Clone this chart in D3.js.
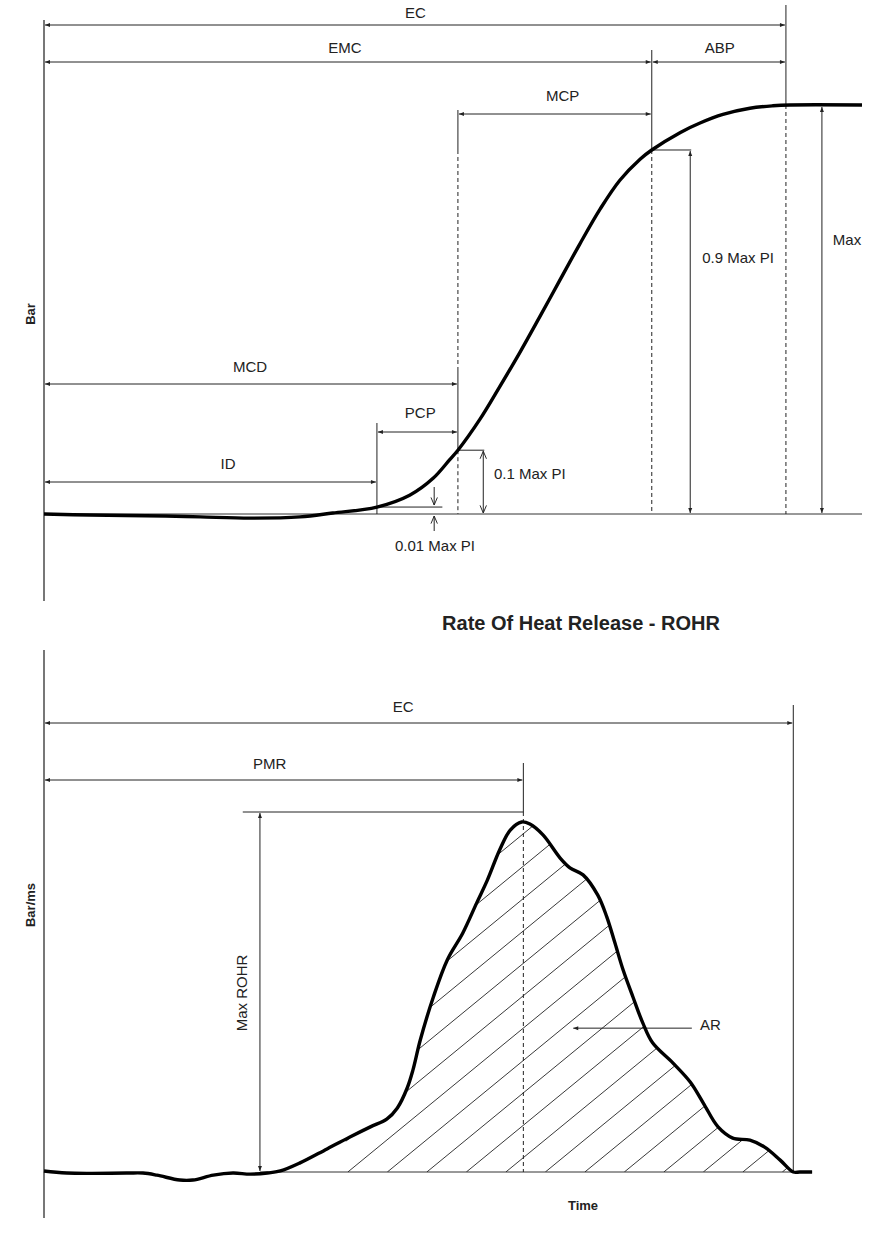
<!DOCTYPE html>
<html><head><meta charset="utf-8">
<script src="https://cdn.jsdelivr.net/npm/d3@7"></script>
<style>
body{margin:0;background:#fff}
text{font-family:"Liberation Sans",Arial,Helvetica,sans-serif;fill:#222}
</style>
</head><body>
<svg id="c" width="870" height="1237"></svg>
<script>
// ---------------- DATA ----------------
// time axis in % of window, values in % of maximum
const pressureCurve = [[0,0],[5.6,-0.25],[14.9,-0.5],[19.1,-0.7],[25.2,-1],[31.3,-0.7],[35.3,0.25],[40.7,1.7],[44.7,4.6],[47.6,8.8],[49.6,13.3],[50.6,15.6],[53.3,23.2],[55.7,31.1],[58.2,39.6],[60.6,48.2],[63.1,57.3],[65.5,66.0],[68.0,74.6],[70.4,81.6],[72.9,86.8],[74.3,89.0],[77.8,93.3],[80.2,95.6],[83.0,97.7],[86.3,99.2],[89.1,99.8],[91.2,100],[100,100]];

const rohrCurve = [[0,0.3],[2.8,-0.3],[10.1,-0.3],[12.1,-0.3],[13.8,-0.9],[16.6,-2.3],[18.2,-2.3],[20.7,-0.9],[23.1,-0.3],[25.2,-0.6],[27.3,-0.3],[28.9,0.3],[31.3,2.6],[34.6,6.6],[37.4,10.0],[39.9,12.9],[41.9,15.1],[43.2,18.3],[44.4,24.0],[45.1,29.1],[46.0,37.7],[47.6,50.0],[49.3,60.6],[51.2,68.3],[52.9,76.9],[54.2,83.4],[55.7,92.0],[57.0,97.7],[58.4,100],[59.4,99.4],[61.0,96.3],[63.1,89.7],[64.3,86.9],[65.9,84.9],[67.7,79.1],[68.8,72.9],[69.8,65.4],[70.8,57.7],[72.0,50.0],[73.2,42.6],[74.4,36.9],[76.9,31.1],[79.0,25.7],[80.6,19.7],[82.4,12.9],[84.2,9.7],[86.3,9.1],[88.1,7.1],[90.0,3.4],[91.6,0],[92.4,0],[93.9,0]];

const topSpanNames   = ["EC","EMC","ABP","MCP","MCD","PCP","ID"];
const topSpanFrom    = [0, 0, 74.3, 50.6, 0, 40.7, 0];
const topSpanTo      = [90.7, 74.3, 90.7, 74.3, 50.6, 50.6, 40.7];
const topSpanLabelAt = [45.4, 36.8, 82.6, 63.4, 25.2, 46.0, 22.5];

const levelNames   = ["0.01 Max PI","0.1 Max PI","0.9 Max PI","Max"];
const levelValues  = [1.7, 15.6, 89.0, 100];
const levelTimes   = [40.7, 50.6, 74.3, 90.7];
const levelArrowAt = [47.7, 53.7, 79.0, 95.1];

const rohrSpanNames   = ["EC","PMR"];
const rohrSpanFrom    = [0, 0];
const rohrSpanTo      = [91.6, 58.6];
const rohrSpanLabelAt = [43.9, 27.6];
const maxRohrArrowAt = 26.4, maxRohrLineFrom = 24.3, rohrPeakTime = 58.6;
const arArrowFrom = 79.2, arArrowTo = 64.7, arLevel = 41.1;
const hatchStart = 36.9;

const axisTitles = ["Bar","Bar/ms","Time"];
const chartTitle = "Rate Of Heat Release - ROHR";

// ---------------- SCALES ----------------
const W = 870, H = 1237;
const x = d3.scaleLinear().domain([0,100]).range([44,862]);
const yTop = d3.scaleLinear().domain([0,100]).range([514,105]);
const yBot = d3.scaleLinear().domain([0,100]).range([1172,822]);

const svg = d3.select("#c");
const defs = svg.append("defs");
const INK = "#222";
const FS = 15;

defs.append("marker").attr("id","ah").attr("viewBox","0 0 6 6").attr("refX",6).attr("refY",3)
  .attr("markerWidth",6).attr("markerHeight",5).attr("markerUnits","userSpaceOnUse")
  .attr("orient","auto-start-reverse")
  .append("path").attr("d","M0,0.6L6,3L0,5.4Z").attr("fill",INK);
defs.append("marker").attr("id","oh").attr("viewBox","0 0 10 10").attr("refX",9.5).attr("refY",5)
  .attr("markerWidth",8).attr("markerHeight",8).attr("markerUnits","userSpaceOnUse")
  .attr("orient","auto-start-reverse")
  .append("path").attr("d","M0,1L9.5,5L0,9").attr("fill","none").attr("stroke",INK).attr("stroke-width",1.2);

function seg(x1,y1,x2,y2,o={}){
  const l = svg.append("line").attr("x1",x1).attr("y1",y1).attr("x2",x2).attr("y2",y2)
    .attr("stroke",o.color||INK).attr("stroke-width",o.w||1);
  if(o.dash) l.attr("stroke-dasharray","4,3");
  if(o.start) l.attr("marker-start",`url(#${o.start})`);
  if(o.end) l.attr("marker-end",`url(#${o.end})`);
  return l;
}
function label(t,px,py,o={}){
  const e = svg.append("text").attr("x",px).attr("y",py).text(t)
    .attr("font-size",o.size||FS).attr("text-anchor",o.anchor||"middle");
  if(o.bold) e.attr("font-weight","bold");
  if(o.rot) e.attr("transform",`rotate(-90,${px},${py})`);
  return e;
}
const smooth = d3.curveCatmullRom.alpha(0.5);

// ================= TOP CHART =================
seg(44,20,44,601,{color:"#555",w:1.6});
seg(x(0),yTop(0),x(100),yTop(0),{color:"#333",w:1});

// vertical event lines
seg(x(levelTimes[0]),423,x(levelTimes[0]),yTop(0));
seg(x(50.6),110,x(50.6),150);
seg(x(50.6),150,x(50.6),367,{dash:true});
seg(x(50.6),367,x(50.6),yTop(levelValues[1]));
seg(x(50.6),yTop(levelValues[1]),x(50.6),yTop(0),{dash:true});
seg(x(74.3),50,x(74.3),yTop(levelValues[2]));
seg(x(74.3),yTop(levelValues[2]),x(74.3),yTop(0),{dash:true});
seg(x(90.7),5,x(90.7),yTop(100));
seg(x(90.7),yTop(100),x(90.7),yTop(0),{dash:true});

// spans
const topRowY = [25,62,62,114,384,432,482];
const topLabelOff = [-7,-9,-9,-13,-12,-14,-13];
topSpanNames.forEach((n,i)=>{
  seg(x(topSpanFrom[i])+1,topRowY[i],x(topSpanTo[i])-1,topRowY[i],{start:"ah",end:"ah"});
  label(n,x(topSpanLabelAt[i]),topRowY[i]+topLabelOff[i]);
});

// level markers
seg(x(levelTimes[0]),yTop(levelValues[0]),x(48.7),yTop(levelValues[0]));
seg(x(levelArrowAt[0]),487,x(levelArrowAt[0]),yTop(levelValues[0])-2,{end:"oh"});
seg(x(levelArrowAt[0]),531,x(levelArrowAt[0]),yTop(0)+2,{end:"oh"});
label(levelNames[0],435,551);
seg(x(levelTimes[1]),yTop(levelValues[1]),x(levelArrowAt[1])+1,yTop(levelValues[1]));
seg(x(levelArrowAt[1]),yTop(levelValues[1])+1,x(levelArrowAt[1]),yTop(0)-1,{start:"oh",end:"oh"});
label(levelNames[1],494,479,{anchor:"start"});
seg(x(levelTimes[2]),yTop(levelValues[2]),x(levelArrowAt[2])+1,yTop(levelValues[2]));
seg(x(levelArrowAt[2]),yTop(levelValues[2])+1,x(levelArrowAt[2]),yTop(0)-1,{start:"ah",end:"ah"});
label(levelNames[2],738,263);
seg(x(levelArrowAt[3]),yTop(levelValues[3])+2,x(levelArrowAt[3]),yTop(0)-1,{start:"ah",end:"ah"});
label(levelNames[3],847,245);

// pressure curve
const lineTop = d3.line().x(d=>x(d[0])).y(d=>yTop(d[1])).curve(smooth);
svg.append("path").attr("d",lineTop(pressureCurve)).attr("fill","none")
  .attr("stroke","#000").attr("stroke-width",3.4).attr("stroke-linejoin","round");

label(axisTitles[0],35,314,{bold:true,size:13,rot:true});

// ================= BOTTOM CHART =================
label(chartTitle,581,630,{bold:true,size:20});
seg(44,650,44,1218,{color:"#555",w:1.6});
seg(x(maxRohrArrowAt),yBot(0),x(93.9),yBot(0),{color:"#333"});

// hatching
const areaGen = d3.area().x(d=>x(d[0])).y0(yBot(0)).y1(d=>yBot(d[1])).curve(smooth);
defs.append("clipPath").attr("id","areaClip").append("path").attr("d",areaGen(rohrCurve));
defs.append("clipPath").attr("id","xClip").append("rect")
  .attr("x",x(hatchStart)).attr("y",0).attr("width",W).attr("height",H);
const hg = svg.append("g").attr("clip-path","url(#xClip)").append("g").attr("clip-path","url(#areaClip)");
const slope = 0.82, step = 39.5, b0 = x(hatchStart)+2;
d3.range(-10,16).forEach(k=>{
  const b = b0 + k*step;
  hg.append("line").attr("x1",b).attr("y1",yBot(0)).attr("x2",b+700).attr("y2",yBot(0)-700*slope)
    .attr("stroke",INK).attr("stroke-width",0.9);
});

// verticals
seg(x(rohrSpanTo[0]),705,x(rohrSpanTo[0]),yBot(0));
seg(x(rohrPeakTime),763,x(rohrPeakTime),yBot(100)-10);
seg(x(rohrPeakTime),yBot(100)-10,x(rohrPeakTime),yBot(0),{dash:true});
seg(x(maxRohrLineFrom),yBot(100)-10,x(rohrPeakTime),yBot(100)-10);
seg(x(maxRohrArrowAt),yBot(0)-1,x(maxRohrArrowAt),yBot(100)-9,{start:"ah",end:"ah"});
label("Max ROHR",247,993,{rot:true});

const rohrRowY = [723,780];
rohrSpanNames.forEach((n,i)=>{
  seg(x(rohrSpanFrom[i])+1,rohrRowY[i],x(rohrSpanTo[i])-1,rohrRowY[i],{start:"ah",end:"ah"});
  label(n,x(rohrSpanLabelAt[i]),rohrRowY[i]-11);
});

// AR
seg(x(arArrowFrom),yBot(arLevel),x(arArrowTo),yBot(arLevel),{end:"ah"});
label("AR",700,1030,{anchor:"start"});

// ROHR curve
const lineBot = d3.line().x(d=>x(d[0])).y(d=>yBot(d[1])).curve(smooth);
svg.append("path").attr("d",lineBot(rohrCurve)).attr("fill","none")
  .attr("stroke","#000").attr("stroke-width",3.4).attr("stroke-linejoin","round");

label(axisTitles[1],35,905,{bold:true,size:13,rot:true});
label(axisTitles[2],583,1210,{bold:true,size:13});
</script>
</body></html>
